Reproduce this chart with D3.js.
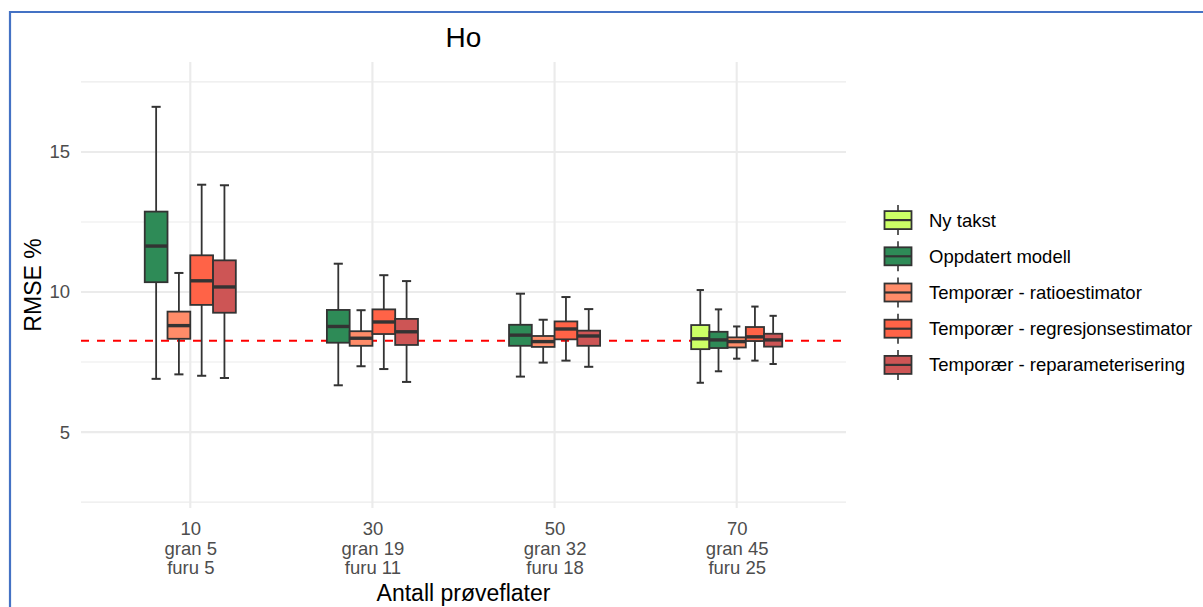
<!DOCTYPE html>
<html>
<head>
<meta charset="utf-8">
<script src="https://cdn.jsdelivr.net/npm/d3@7"></script>
<style>
  body { margin: 0; background: #fff; }
  svg { display: block; font-family: "Liberation Sans", Arial, sans-serif; }
</style>
</head>
<body>
<svg id="chart" width="1203" height="607"></svg>
<script>
// categories on the x axis (number of plots, with spruce / pine split)
const categories = ["10", "30", "50", "70"];
const subLabels = [["gran 5", "furu 5"], ["gran 19", "furu 11"], ["gran 32", "furu 18"], ["gran 45", "furu 25"]];

const seriesNames = ["Ny takst", "Oppdatert modell", "Temporær - ratioestimator", "Temporær - regresjonsestimator", "Temporær - reparameterisering"];
const seriesColors = ["#CCFF66", "#2E8B57", "#FF8C69", "#FF6347", "#CD5555"];

// per category: [lower whisker, q1, median, q3, upper whisker], null = not present
const nyTakst = [null, null, null, [6.76, 7.96, 8.33, 8.82, 10.07]];
const oppdatertModell = [[6.90, 10.35, 11.64, 12.87, 16.61], [6.67, 8.19, 8.77, 9.36, 11.01], [6.98, 8.08, 8.46, 8.83, 9.94], [7.17, 8.00, 8.29, 8.58, 9.38]];
const ratioEstimator = [[7.06, 8.33, 8.80, 9.30, 10.68], [7.35, 8.08, 8.35, 8.60, 9.35], [7.48, 8.04, 8.23, 8.43, 9.01], [7.62, 8.02, 8.23, 8.38, 8.77]];
const regresjonsEstimator = [[7.01, 9.54, 10.40, 11.31, 13.83], [7.25, 8.50, 8.93, 9.38, 10.60], [7.55, 8.31, 8.68, 8.95, 9.82], [7.55, 8.25, 8.40, 8.75, 9.48]];
const reparameterisering = [[6.93, 9.26, 10.18, 11.13, 13.81], [6.79, 8.11, 8.58, 9.04, 10.39], [7.33, 8.08, 8.43, 8.62, 9.39], [7.43, 8.05, 8.29, 8.51, 9.15]];
const seriesStats = [nyTakst, oppdatertModell, ratioEstimator, regresjonsEstimator, reparameterisering];

const refLine = 8.26;
const yMajor = [5, 10, 15];
const yMinor = [2.5, 7.5, 12.5, 17.5];
const yDomain = [2.29, 18.21];

const svg = d3.select("#chart");
const panel = {left: 81, right: 846, top: 62, bottom: 508};
const ink = "#333333";

// frame round the picture (top and left edges only are visible)
svg.append("line").attr("x1", 10).attr("x2", 1203).attr("y1", 12).attr("y2", 12)
    .attr("stroke", "#4472C4").attr("stroke-width", 2.2);
svg.append("line").attr("x1", 10).attr("x2", 10).attr("y1", 11).attr("y2", 607)
    .attr("stroke", "#4472C4").attr("stroke-width", 2.2);

const x = d3.scalePoint().domain(categories).range([panel.left, panel.right]).padding(0.6);
const y = d3.scaleLinear().domain(yDomain).range([panel.bottom, panel.top]);
const step = x.step();

const grid = svg.append("g");
grid.selectAll(".minor").data(yMinor).enter().append("line")
    .attr("x1", panel.left).attr("x2", panel.right)
    .attr("y1", d => y(d)).attr("y2", d => y(d))
    .attr("stroke", "#EBEBEB").attr("stroke-width", 1.1);
grid.selectAll(".major").data(yMajor).enter().append("line")
    .attr("x1", panel.left).attr("x2", panel.right)
    .attr("y1", d => y(d)).attr("y2", d => y(d))
    .attr("stroke", "#EBEBEB").attr("stroke-width", 2.1);
grid.selectAll(".vert").data(categories).enter().append("line")
    .attr("x1", d => x(d)).attr("x2", d => x(d))
    .attr("y1", panel.top).attr("y2", panel.bottom)
    .attr("stroke", "#EBEBEB").attr("stroke-width", 2.1);

// dashed reference line sits behind the boxes
svg.append("line")
    .attr("x1", panel.left).attr("x2", panel.right)
    .attr("y1", y(refLine)).attr("y2", y(refLine))
    .attr("stroke", "#FF0000").attr("stroke-width", 2).attr("stroke-dasharray", "8,8");

// boxes, dodged within each category over the series present there
const boxes = svg.append("g");
categories.forEach((cat, ci) => {
    const present = seriesNames.filter((s, si) => seriesStats[si][ci]);
    const cx = x(cat);
    const band = d3.scaleBand().domain(present).range([cx - step * 0.25, cx + step * 0.25]).padding(0);
    const capW = step * 0.2 / present.length;
    present.forEach(name => {
        const si = seriesNames.indexOf(name);
        const [lo, q1, med, q3, hi] = seriesStats[si][ci];
        const bx = band(name), bw = band.bandwidth(), mid = bx + bw / 2;
        const g = boxes.append("g");
        g.append("line").attr("x1", mid).attr("x2", mid).attr("y1", y(hi)).attr("y2", y(q3))
            .attr("stroke", ink).attr("stroke-width", 1.8);
        g.append("line").attr("x1", mid).attr("x2", mid).attr("y1", y(q1)).attr("y2", y(lo))
            .attr("stroke", ink).attr("stroke-width", 1.8);
        [lo, hi].forEach(v => {
            g.append("line").attr("x1", mid - capW / 2).attr("x2", mid + capW / 2)
                .attr("y1", y(v)).attr("y2", y(v))
                .attr("stroke", ink).attr("stroke-width", 2);
        });
        g.append("rect").attr("x", bx).attr("width", bw)
            .attr("y", y(q3)).attr("height", y(q1) - y(q3))
            .attr("fill", seriesColors[si]).attr("stroke", ink).attr("stroke-width", 1.8);
        g.append("line").attr("x1", bx).attr("x2", bx + bw).attr("y1", y(med)).attr("y2", y(med))
            .attr("stroke", ink).attr("stroke-width", 3.4);
    });
});

// axes: labels only, no ticks or domain
const yAxis = svg.append("g").attr("transform", `translate(${panel.left},0)`)
    .call(d3.axisLeft(y).tickValues(yMajor).tickSize(0).tickPadding(11));
yAxis.select(".domain").remove();
yAxis.selectAll("text").attr("font-size", 18.5).attr("fill", "#4D4D4D")
    .attr("font-family", "Liberation Sans, Arial, sans-serif");

const xAxis = svg.append("g").attr("transform", `translate(0,${panel.bottom})`)
    .call(d3.axisBottom(x).tickSize(0).tickPadding(0));
xAxis.select(".domain").remove();
xAxis.selectAll("text").each(function(d, i) {
    const t = d3.select(this).text(null).attr("y", 0).attr("dy", null)
        .attr("font-size", 18.5).attr("fill", "#4D4D4D")
        .attr("font-family", "Liberation Sans, Arial, sans-serif");
    [d].concat(subLabels[i]).forEach((line, li) => {
        t.append("tspan").attr("x", 0).attr("y", 27 + li * 19.5).text(line);
    });
});

// titles
const mid = (panel.left + panel.right) / 2;
svg.append("text").attr("x", mid).attr("y", 47).attr("text-anchor", "middle")
    .attr("font-size", 28).attr("fill", "#000").text("Ho");
svg.append("text").attr("x", mid).attr("y", 601).attr("text-anchor", "middle")
    .attr("font-size", 23).attr("fill", "#000").text("Antall prøveflater");
svg.append("text").attr("transform", `translate(41,${(panel.top + panel.bottom) / 2}) rotate(-90)`)
    .attr("text-anchor", "middle").attr("font-size", 23).attr("fill", "#000").text("RMSE %");

// legend
const legend = svg.append("g").attr("transform", "translate(880,202)");
const keySize = 36.2;
seriesNames.forEach((name, i) => {
    const k = legend.append("g").attr("transform", `translate(0,${i * keySize})`);
    const kx = 18, kw = 27, kh = 18, cy = keySize / 2;
    k.append("line").attr("x1", kx).attr("x2", kx).attr("y1", cy - 15).attr("y2", cy + 15)
        .attr("stroke", ink).attr("stroke-width", 1.6);
    k.append("rect").attr("x", kx - kw / 2).attr("y", cy - kh / 2).attr("width", kw).attr("height", kh)
        .attr("fill", seriesColors[i]).attr("stroke", ink).attr("stroke-width", 1.8);
    k.append("line").attr("x1", kx - kw / 2).attr("x2", kx + kw / 2).attr("y1", cy).attr("y2", cy)
        .attr("stroke", ink).attr("stroke-width", 2.2);
    k.append("text").attr("x", 49).attr("y", cy + 6.5).attr("font-size", 18.5).attr("fill", "#000").text(name);
});
</script>
</body>
</html>
